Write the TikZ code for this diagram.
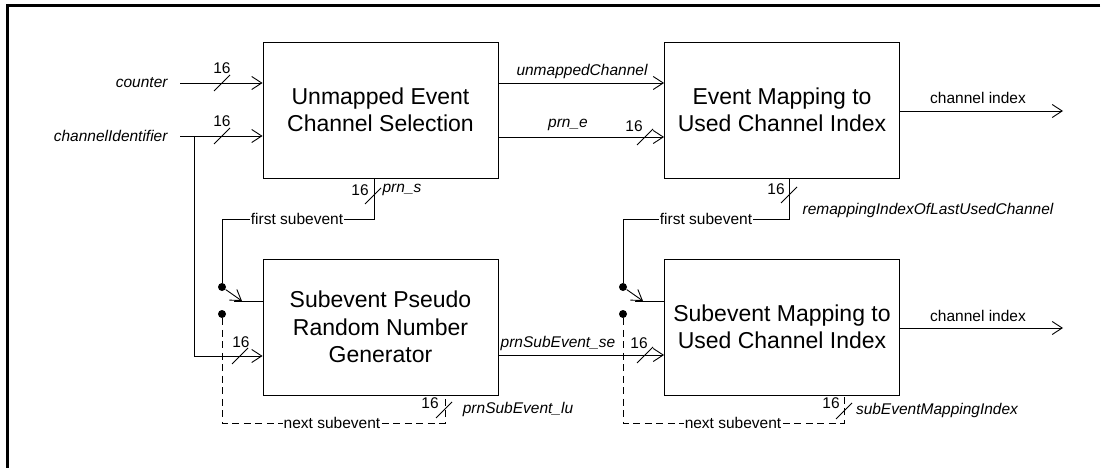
\documentclass[tikz,border=0pt]{standalone}
\usepackage{fontspec}
\setmainfont{Liberation Sans}
\usetikzlibrary{arrows.meta}
\newcommand{\busmark}[1]{\draw ([shift={(-8,8)}]#1) -- ([shift={(8,-8)}]#1);}
\tikzset{
  blk/.style={draw, minimum width=235pt, minimum height=136pt, align=center, inner sep=0pt, font=\fontsize{23}{27.5}\selectfont},
  sig/.style={inner sep=1pt, font=\fontsize{15.5}{18}\selectfont\itshape},
  lbl/.style={inner sep=1pt, font=\fontsize{15.5}{18}\selectfont},
  wire/.style={-{Straight Barb[length=10pt,width=13pt]}},
  nxt/.style={dash pattern=on 7pt off 4.5pt},
  pin/.style={circle, fill, inner sep=0pt, minimum size=8pt},
}
\begin{document}
\begin{tikzpicture}[x=1pt, y=-1pt, line width=0.9pt]
  \useasboundingbox (0,0) rectangle (1109,468);
  % frame
  \draw[line width=3pt] (1100,6) -- (7,6) -- (7,470);

  % blocks
  \node[blk] (A) at (380.5,110) {Unmapped Event\\Channel Selection};
  \node[blk] (B) at (782,110) {Event Mapping to\\Used Channel Index};
  \node[blk] (C) at (380.5,327) {Subevent Pseudo\\Random Number\\Generator};
  \node[blk] (D) at (782,327) {Subevent Mapping to\\Used Channel Index};

  % inputs
  \node[sig, anchor=east] (cnt) at (169,83) {counter};
  \node[sig, anchor=east] (cid) at (169,136) {channelIdentifier};
  \coordinate (cntS) at (180,83);
  \coordinate (cidS) at (180,136);
  \coordinate (br) at (194,136);
  \coordinate (yC) at (0,356);
  \draw[wire] (cntS) -- (cntS -| A.west);
  \draw[wire] (cidS) -- (cidS -| A.west);
  \draw[wire] (br) |- (C.west |- yC);
  \busmark{222,83} \busmark{222,136} \busmark{240,356}
  \node[lbl] (n16a) at (222,68) {16};
  \node[lbl] (n16b) at (222,121) {16};
  \node[lbl] (n16c) at (241,342) {16};

  % A to B
  \coordinate (yU) at (0,83);
  \coordinate (yE) at (0,137);
  \draw[wire] (A.east |- yU) -- (B.west |- yU);
  \node[sig] (um) at (582,71) {unmappedChannel};
  \draw[wire] (A.east |- yE) -- (B.west |- yE);
  \node[sig] (pe) at (568,125) {prn\_e};
  \busmark{645,137}
  \node[lbl] (n16d) at (634,126) {16};

  % first subevent, left switch
  \node[pin] (p1) at (222,287) {};
  \node[pin] (p2) at (222,314) {};
  \coordinate (fA) at (374,219);
  \draw (fA |- A.south) -- (fA) -| (p1);
  \node[lbl, fill=white] (fs1) at (297,219) {first subevent};
  \busmark{373,196}
  \node[lbl] (n16e) at (360,190) {16};
  \node[sig] (ps) at (402,190) {prn\_s};
  \coordinate (sw1) at (242,301);
  \coordinate (sw1a) at (234,301);
  \draw[wire] (p1) -- (sw1);
  \draw (sw1a) -- (C.west |- sw1);

  % next subevent, left switch
  \coordinate (nA) at (445,423);
  \draw[nxt] (p2) |- (nA) -- (nA |- C.south);
  \node[lbl, fill=white] (ns1) at (332,423) {next subevent};
  \busmark{444,410}
  \node[lbl] (n16f) at (430,403) {16};
  \node[sig] (plu) at (518,409) {prnSubEvent\_lu};

  % C to D
  \coordinate (yS) at (0,355);
  \draw[wire] (C.east |- yS) -- (D.west |- yS);
  \node[sig] (pse) at (558,343) {prnSubEvent\_se};
  \busmark{645,355}
  \node[lbl] (n16g) at (639,343) {16};

  % first subevent, right switch
  \node[pin] (p3) at (623,287) {};
  \node[pin] (p4) at (623,314) {};
  \coordinate (fB) at (789,219);
  \draw (fB |- B.south) -- (fB) -| (p3);
  \node[lbl, fill=white] (fs2) at (706,219) {first subevent};
  \busmark{789,195}
  \node[lbl] (n16h) at (776,189) {16};
  \node[sig] (rem) at (928,210) {remappingIndexOfLastUsedChannel};
  \coordinate (sw2) at (643,301);
  \coordinate (sw2a) at (635,301);
  \draw[wire] (p3) -- (sw2);
  \draw (sw2a) -- (D.west |- sw2);

  % next subevent, right switch
  \coordinate (nB) at (844,423);
  \draw[nxt] (p4) |- (nB) -- (nB |- D.south);
  \node[lbl, fill=white] (ns2) at (733,423) {next subevent};
  \busmark{844,411}
  \node[lbl] (n16i) at (831,403) {16};
  \node[sig] (smi) at (937,410) {subEventMappingIndex};

  % outputs
  \coordinate (oB) at (1063,111);
  \coordinate (oD) at (1063,328);
  \draw[wire] (B.east |- oB) -- (oB);
  \node[lbl] (ci1) at (978,98) {channel index};
  \draw[wire] (D.east |- oD) -- (oD);
  \node[lbl] (ci2) at (978,316) {channel index};
\end{tikzpicture}
\end{document}
